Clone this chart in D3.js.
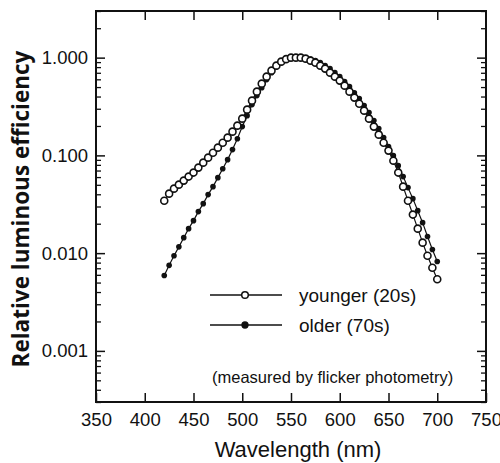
<!DOCTYPE html>
<html>
  <head>
    <meta charset="utf-8">
    <script src="https://cdn.jsdelivr.net/npm/d3@7/dist/d3.min.js"></script>
    <style>
      body { margin: 0; background: #fff; }
    </style>
  </head>
  <body>
    <script type="text/javascript">
      var w = 500;
      var h = 463;

      // Wavelengths (nm), one point every 5 nm
      var wavelengths = [420,425,430,435,440,445,450,455,460,465,470,475,480,485,490,495,
                         500,505,510,515,520,525,530,535,540,545,550,555,560,565,570,575,
                         580,585,590,595,600,605,610,615,620,625,630,635,640,645,650,655,
                         660,665,670,675,680,685,690,695,700];

      // younger (20s), open circles
      var younger = [0.0344,0.0406,0.0457,0.0502,0.0552,0.0607,0.0667,0.0750,0.0843,0.0948,
                     0.1066,0.1200,0.1349,0.1519,0.175,0.2015,0.2376,0.2938,0.363,0.449,
                     0.542,0.639,0.736,0.828,0.910,0.965,1.0,1.0,1.0,0.977,
                     0.932,0.889,0.828,0.772,0.702,0.639,0.582,0.517,0.449,0.390,
                     0.338,0.287,0.2376,0.197,0.163,0.1349,0.1119,0.0883,0.0667,0.0479,
                     0.0344,0.0248,0.0178,0.0128,0.0094,0.0071,0.0054];

      // older (70s), filled circles
      var older = [0.0059,0.0075,0.0094,0.0116,0.0144,0.0178,0.0215,0.0266,0.0321,0.0397,
                   0.0479,0.0592,0.0731,0.0905,0.1146,0.148,0.197,0.255,0.331,0.409,
                   0.493,0.596,0.702,0.809,0.889,0.954,0.988,1.0,1.0,0.988,
                   0.965,0.932,0.889,0.828,0.772,0.702,0.639,0.568,0.505,0.438,
                   0.381,0.323,0.274,0.227,0.188,0.152,0.123,0.0994,0.0785,0.0607,
                   0.0468,0.0361,0.0272,0.0205,0.0148,0.0109,0.0082];

      var xTicks = [350,400,450,500,550,600,650,700,750];
      var yTicks = [0.001,0.01,0.1,1];
      var yTickLabels = ["0.001","0.010","0.100","1.000"];

      var pLeft = 96, pRight = 486, pTop = 11, pBottom = 402;
      var sans = "'Liberation Sans', Arial, sans-serif";

      var svg = d3.select("body")
                  .append("svg")
                    .attr("width", w)
                    .attr("height", h);

      var x = d3.scaleLinear().domain([350, 750]).range([pLeft, pRight]);
      var y = d3.scaleLog().domain([0.0003, 3]).range([pBottom, pTop]);

      // minor log ticks 2..9 inside domain
      var minor = [];
      [0.0001,0.001,0.01,0.1,1].forEach(function(dec){
        for (var k = 2; k <= 9; k++) {
          var v = dec * k;
          if (v >= 0.0003 && v <= 3) minor.push(v);
        }
      });

      function styleTicks(g, sw) {
        g.select(".domain").remove();
        g.selectAll("line").attr("stroke", "#111").attr("stroke-width", sw);
        g.selectAll("text").style("font-family", sans).style("font-size", "18.5px").attr("fill", "#111");
      }

      // Axes: ticks point inward
      svg.append("g")
         .attr("transform", "translate(0," + pBottom + ")")
         .call(d3.axisBottom(x).tickValues(xTicks).tickSize(-9).tickPadding(11).tickFormat(d3.format("d")))
         .call(styleTicks, 1.5);

      svg.append("g")
         .attr("transform", "translate(0," + pTop + ")")
         .call(d3.axisTop(x).tickValues(xTicks.slice(1, -1)).tickSize(-9).tickFormat(""))
         .call(styleTicks, 1.5);

      svg.append("g")
         .attr("transform", "translate(" + pLeft + ",0)")
         .call(d3.axisLeft(y).tickValues(yTicks).tickSize(-9).tickPadding(8)
                 .tickFormat(function(d, i){ return yTickLabels[i]; }))
         .call(styleTicks, 1.5);

      svg.append("g")
         .attr("transform", "translate(" + pLeft + ",0)")
         .call(d3.axisLeft(y).tickValues(minor).tickSize(-5).tickFormat(""))
         .call(styleTicks, 1.3);

      svg.append("g")
         .attr("transform", "translate(" + pRight + ",0)")
         .call(d3.axisRight(y).tickValues(yTicks).tickSize(-9).tickFormat(""))
         .call(styleTicks, 1.5);

      svg.append("g")
         .attr("transform", "translate(" + pRight + ",0)")
         .call(d3.axisRight(y).tickValues(minor).tickSize(-5).tickFormat(""))
         .call(styleTicks, 1.3);

      // Frame
      svg.append("rect")
         .attr("x", pLeft).attr("y", pTop)
         .attr("width", pRight - pLeft).attr("height", pBottom - pTop)
         .attr("fill", "none").attr("stroke", "#111").attr("stroke-width", 2);

      var line = d3.line()
                   .x(function(d){ return x(d[0]); })
                   .y(function(d){ return y(d[1]); });

      var olderPts = wavelengths.map(function(d, i){ return [d, older[i]]; });
      var youngerPts = wavelengths.map(function(d, i){ return [d, younger[i]]; });

      // older series (filled) first, younger on top
      svg.append("path").datum(olderPts)
         .attr("d", line).attr("fill", "none").attr("stroke", "#111").attr("stroke-width", 1.2);
      svg.selectAll("circle.older")
         .data(olderPts).enter().append("circle")
           .attr("class", "older")
           .attr("cx", function(d){ return x(d[0]); })
           .attr("cy", function(d){ return y(d[1]); })
           .attr("r", 2.8)
           .attr("fill", "#111");

      svg.append("path").datum(youngerPts)
         .attr("d", line).attr("fill", "none").attr("stroke", "#111").attr("stroke-width", 1.2);
      svg.selectAll("circle.younger")
         .data(youngerPts).enter().append("circle")
           .attr("class", "younger")
           .attr("cx", function(d){ return x(d[0]); })
           .attr("cy", function(d){ return y(d[1]); })
           .attr("r", 3.5)
           .attr("fill", "#fff")
           .attr("stroke", "#111")
           .attr("stroke-width", 1.6);

      // Legend
      var legend = [
        {label: "younger (20s)", open: true, y: 295},
        {label: "older (70s)", open: false, y: 325}
      ];
      var lg = svg.selectAll("g.legend").data(legend).enter().append("g").attr("class", "legend");
      lg.append("line")
        .attr("x1", 210).attr("x2", 282)
        .attr("y1", function(d){ return d.y; }).attr("y2", function(d){ return d.y; })
        .attr("stroke", "#111").attr("stroke-width", 1.3);
      lg.append("circle")
        .attr("cx", 245).attr("cy", function(d){ return d.y; })
        .attr("r", function(d){ return d.open ? 3.3 : 2.9; })
        .attr("fill", function(d){ return d.open ? "#fff" : "#111"; })
        .attr("stroke", "#111").attr("stroke-width", 1.5);
      lg.append("text")
        .attr("x", 299).attr("y", function(d){ return d.y + 6.5; })
        .style("font-family", sans).style("font-size", "19px").attr("fill", "#111")
        .text(function(d){ return d.label; });

      svg.append("text")
         .attr("x", 212).attr("y", 383)
         .style("font-family", sans).style("font-size", "16.5px").attr("fill", "#111")
         .text("(measured by flicker photometry)");

      // Axis titles
      svg.append("text")
         .attr("x", 298).attr("y", 457)
         .attr("text-anchor", "middle")
         .style("font-family", sans).style("font-size", "22px").attr("fill", "#111")
         .text("Wavelength (nm)");

      svg.append("text")
         .attr("transform", "translate(29,209) rotate(-90)")
         .attr("text-anchor", "middle")
         .style("font-family", "'Open Sans', sans-serif")
         .style("font-weight", "bold")
         .style("font-size", "22.5px")
         .attr("fill", "#111")
         .text("Relative luminous efficiency");
    </script>
  </body>
</html>
